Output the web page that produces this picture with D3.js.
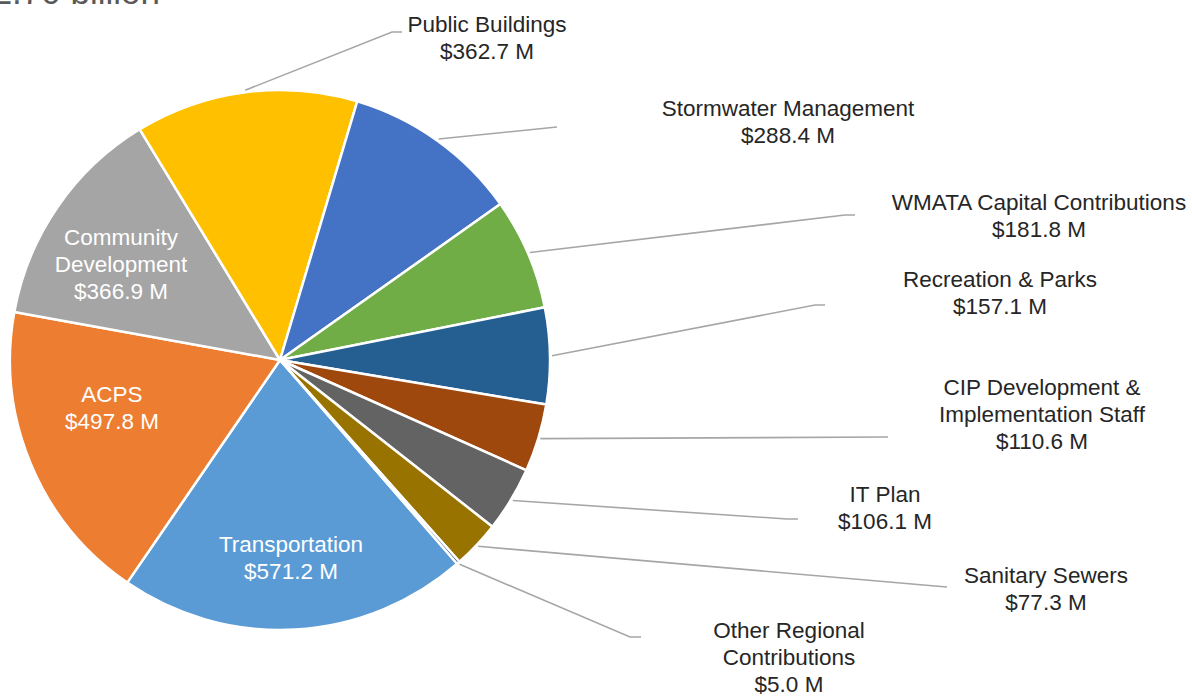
<!DOCTYPE html>
<html>
<head>
<meta charset="utf-8">
<script src="https://cdn.jsdelivr.net/npm/d3@7"></script>
<style>
  html, body { margin: 0; padding: 0; background: #ffffff; }
  svg { display: block; }
  text { font-family: "Liberation Sans", Arial, sans-serif; }
</style>
</head>
<body>
<svg id="chart" width="1192" height="696"></svg>
<script>
// ---- data ----
const categories = ["Transportation", "ACPS", "Community Development", "Public Buildings",
  "Stormwater Management", "WMATA Capital Contributions", "Recreation & Parks",
  "CIP Development & Implementation Staff", "IT Plan", "Sanitary Sewers",
  "Other Regional Contributions"];
const values = [571.2, 497.8, 366.9, 362.7, 288.4, 181.8, 157.1, 110.6, 106.1, 77.3, 5.0];
const labelNames = [["Transportation"], ["ACPS"], ["Community", "Development"], ["Public Buildings"],
  ["Stormwater Management"], ["WMATA Capital Contributions"], ["Recreation & Parks"],
  ["CIP Development &", "Implementation Staff"], ["IT Plan"], ["Sanitary Sewers"],
  ["Other Regional", "Contributions"]];
const titleText = "$2.70 billion";

// ---- styles ----
const colors = ["#5B9BD5", "#ED7D31", "#A5A5A5", "#FFC000", "#4472C4", "#70AD47",
  "#255E91", "#9E480E", "#636363", "#997300", "#264478"];

// ---- layout (label anchors; separate from data) ----
// inside: label centre x, first baseline y; outside: elbow points and label position
const layout = [
  { inside: true, x: 291, y: 552 },
  { inside: true, x: 112, y: 402 },
  { inside: true, x: 121, y: 245 },
  { x: 487, y: 32, pts: [[392, 32], [402, 32]] },
  { x: 788, y: 116, pts: [[557, 127]] },
  { x: 1039, y: 210, pts: [[845, 215], [855, 215]] },
  { x: 1000, y: 287, pts: [[815, 305], [825, 305]] },
  { x: 1042, y: 395, pts: [[888, 437]] },
  { x: 885, y: 502, pts: [[787, 519], [798, 519]] },
  { x: 1046, y: 583, pts: [[935, 586], [947, 587]] },
  { x: 789, y: 638, pts: [[630, 637], [641, 637]] }
];

const cx = 280, cy = 360, R = 270;
const fontSize = 22.5, lineH = 26.8;

const svg = d3.select("#chart");

// title (cut off at top)
svg.append("text")
  .attr("x", 160).attr("y", 4)
  .attr("text-anchor", "end")
  .attr("font-size", 35)
  .attr("fill", "#595959")
  .text(titleText);

const data = categories.map((c, i) => ({ name: c, value: values[i], idx: i }));

const startDeg = 139;
const pie = d3.pie().sort(null).value(d => d.value)
  .startAngle(startDeg * Math.PI / 180)
  .endAngle((startDeg + 360) * Math.PI / 180);
const arcs = pie(data);
const arc = d3.arc().innerRadius(0).outerRadius(R);

const g = svg.append("g").attr("transform", `translate(${cx},${cy})`);

g.selectAll("path.slice")
  .data(arcs)
  .join("path")
  .attr("class", "slice")
  .attr("d", arc)
  .attr("fill", d => colors[d.data.idx])
  .attr("stroke", "#ffffff")
  .attr("stroke-width", 2.5)
  .attr("stroke-linejoin", "round");

// leader lines
arcs.forEach(a => {
  const L = layout[a.data.idx];
  if (L.inside) return;
  const mid = (a.startAngle + a.endAngle) / 2;
  const r0 = R + 2;
  const p0 = [cx + r0 * Math.sin(mid), cy - r0 * Math.cos(mid)];
  const pts = [p0].concat(L.pts);
  svg.append("path")
    .attr("d", d3.line()(pts))
    .attr("fill", "none")
    .attr("stroke", "#A6A6A6")
    .attr("stroke-width", 1.6);
});

// labels
arcs.forEach(a => {
  const i = a.data.idx;
  const L = layout[i];
  const lines = labelNames[i].concat(["$" + values[i].toFixed(1) + " M"]);
  const t = svg.append("text")
    .attr("text-anchor", "middle")
    .attr("font-size", fontSize)
    .attr("fill", L.inside ? "#ffffff" : "#262626");
  lines.forEach((ln, k) => {
    t.append("tspan")
      .attr("x", L.x)
      .attr("y", L.y + k * lineH)
      .text(ln);
  });
});
</script>
</body>
</html>
